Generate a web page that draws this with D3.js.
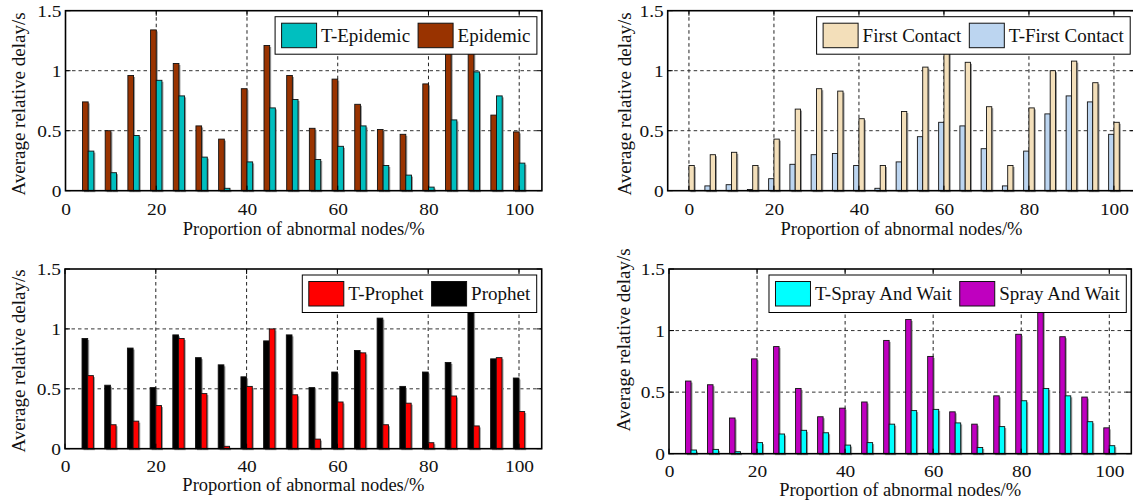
<!DOCTYPE html>
<html>
<head>
<meta charset="utf-8">
<script src="https://cdn.jsdelivr.net/npm/d3@7"></script>
<style>
  body { margin: 0; background: #fff; }
  svg { display: block; }
</style>
</head>
<body>
<svg id="fig" width="1133" height="502"></svg>
<script>
// Proportion of abnormal nodes (%) for each bar group
const nodes5to100 = [5, 10, 15, 20, 25, 30, 35, 40, 45, 50, 55, 60, 65, 70, 75, 80, 85, 90, 95, 100];
const nodes0to100 = [0, 5, 10, 15, 20, 25, 30, 35, 40, 45, 50, 55, 60, 65, 70, 75, 80, 85, 90, 95, 100];
const xTickValues = [0, 20, 40, 60, 80, 100];
const yTickValues = [0, 0.5, 1, 1.5];
const yTickLabels = ["0", "0.5", "1", "1.5"];

// Average relative delay (s)
const epidemic  = [0.74, 0.50, 0.96, 1.34, 1.06, 0.54, 0.43, 0.85, 1.21, 0.96, 0.52, 0.93, 0.72, 0.51, 0.47, 0.89, 1.25, 1.30, 0.63, 0.49];
const tEpidemic = [0.33, 0.15, 0.46, 0.92, 0.79, 0.28, 0.02, 0.24, 0.69, 0.76, 0.26, 0.37, 0.54, 0.21, 0.13, 0.03, 0.59, 0.99, 0.79, 0.23];

const firstContact  = [0.21, 0.30, 0.32, 0.21, 0.43, 0.68, 0.85, 0.83, 0.60, 0.21, 0.66, 1.03, 1.20, 1.07, 0.70, 0.21, 0.69, 1.00, 1.08, 0.90, 0.57];
const tFirstContact = [0.00, 0.04, 0.05, 0.01, 0.10, 0.22, 0.30, 0.31, 0.21, 0.02, 0.24, 0.45, 0.57, 0.54, 0.35, 0.04, 0.33, 0.64, 0.79, 0.74, 0.47];

const prophet  = [0.92, 0.53, 0.84, 0.51, 0.95, 0.76, 0.70, 0.60, 0.90, 0.95, 0.51, 0.64, 0.82, 1.09, 0.52, 0.64, 0.72, 1.20, 0.75, 0.59];
const tProphet = [0.61, 0.20, 0.23, 0.36, 0.92, 0.46, 0.02, 0.52, 1.00, 0.45, 0.08, 0.39, 0.80, 0.20, 0.38, 0.05, 0.44, 0.19, 0.76, 0.31];

const sprayAndWait  = [0.59, 0.56, 0.29, 0.77, 0.87, 0.53, 0.30, 0.37, 0.42, 0.92, 1.09, 0.79, 0.34, 0.24, 0.47, 0.97, 1.22, 0.95, 0.46, 0.21];
const tSprayAndWait = [0.03, 0.035, 0.016, 0.09, 0.16, 0.19, 0.17, 0.07, 0.09, 0.24, 0.35, 0.36, 0.25, 0.05, 0.22, 0.43, 0.53, 0.47, 0.26, 0.065];

const SERIF = "'Liberation Serif', 'DejaVu Serif', 'Noto Serif', 'Times New Roman', Times, serif";
const svg = d3.select("#fig").style("font-family", SERIF);
const BAR_UNITS = 1.25;

function drawPanel(cfg) {
  const x = d3.scaleLinear().domain(cfg.xDomain).range([cfg.left, cfg.right]);
  const y = d3.scaleLinear().domain([0, 1.5]).range([cfg.bottom, cfg.top]);
  const g = svg.append("g");

  // dashed grid
  const gridX = xTickValues.filter(t => x(t) > cfg.left + 1 && x(t) < cfg.right - 1);
  g.selectAll("line.gx").data(gridX).join("line")
    .attr("x1", d => x(d)).attr("x2", d => x(d))
    .attr("y1", cfg.top).attr("y2", cfg.bottom)
    .attr("stroke", "#222").attr("stroke-width", 1).attr("stroke-dasharray", "3.5,3");
  g.selectAll("line.gy").data([0.5, 1]).join("line")
    .attr("x1", cfg.left).attr("x2", cfg.right)
    .attr("y1", d => y(d)).attr("y2", d => y(d))
    .attr("stroke", "#333").attr("stroke-width", 1).attr("stroke-dasharray", "3.5,3");

  // grouped bars: first series left of the tick, second to the right
  const bw = x(BAR_UNITS) - x(0);
  const groups = [
    { vals: cfg.leftSeries.values, color: cfg.leftSeries.color, off: -bw },
    { vals: cfg.rightSeries.values, color: cfg.rightSeries.color, off: 0 }
  ];
  groups.forEach(s => {
    g.append("g").selectAll("rect").data(cfg.categories).join("rect")
      .attr("x", (c, i) => x(c) + s.off + 1.5)
      .attr("y", (c, i) => y(s.vals[i]) + 1.5)
      .attr("width", bw)
      .attr("height", (c, i) => Math.max(0, y(0) - y(s.vals[i])))
      .attr("fill", "#9a9a9a");
  });
  groups.forEach(s => {
    g.append("g").selectAll("rect").data(cfg.categories).join("rect")
      .attr("x", (c, i) => x(c) + s.off)
      .attr("y", (c, i) => y(s.vals[i]))
      .attr("width", bw)
      .attr("height", (c, i) => y(0) - y(s.vals[i]))
      .attr("fill", s.color)
      .attr("stroke", "#111").attr("stroke-width", 0.9);
  });

  // frame
  g.append("rect")
    .attr("x", cfg.left).attr("y", cfg.top)
    .attr("width", cfg.right - cfg.left).attr("height", cfg.bottom - cfg.top)
    .attr("fill", "none").attr("stroke", "#000").attr("stroke-width", 1.6);

  // inward tick marks
  const tk = 5;
  xTickValues.filter(t => x(t) >= cfg.left && x(t) <= cfg.right).forEach(t => {
    g.append("line").attr("x1", x(t)).attr("x2", x(t)).attr("y1", cfg.top).attr("y2", cfg.top + tk).attr("stroke", "#000");
    g.append("line").attr("x1", x(t)).attr("x2", x(t)).attr("y1", cfg.bottom).attr("y2", cfg.bottom - tk).attr("stroke", "#000");
  });
  yTickValues.forEach(t => {
    g.append("line").attr("x1", cfg.left).attr("x2", cfg.left + tk).attr("y1", y(t)).attr("y2", y(t)).attr("stroke", "#000");
    g.append("line").attr("x1", cfg.right).attr("x2", cfg.right - tk).attr("y1", y(t)).attr("y2", y(t)).attr("stroke", "#000");
  });

  // tick labels (slightly widened numerals)
  const xa = g.append("g").attr("transform", `translate(0,${cfg.bottom})`)
    .call(d3.axisBottom(x).tickValues(xTickValues).tickFormat(d3.format("d")).tickSize(0).tickPadding(cfg.xPad));
  const ya = g.append("g").attr("transform", `translate(${cfg.left},0)`)
    .call(d3.axisLeft(y).tickValues(yTickValues).tickFormat((d, i) => yTickLabels[i]).tickSize(0).tickPadding(4));
  [xa, ya].forEach(a => {
    a.select(".domain").remove();
    a.attr("font-family", SERIF).attr("font-size", 17);
    a.selectAll("text")
      .style("font-family", SERIF).style("font-size", "17px").attr("fill", "#111")
      .each(function () {
        const w = this.getComputedTextLength();
        d3.select(this).attr("textLength", w * 1.14).attr("lengthAdjust", "spacingAndGlyphs");
      });
  });

  // axis titles
  g.append("text")
    .attr("x", (cfg.left + cfg.right) / 2).attr("y", cfg.xLabelY)
    .attr("text-anchor", "middle").style("font-size", "18.5px").attr("fill", "#111")
    .text("Proportion of abnormal nodes/%");
  g.append("text")
    .attr("transform", `translate(${cfg.yLabelX},${cfg.yLabelY}) rotate(-90)`)
    .attr("text-anchor", "middle").style("font-size", "19px").attr("fill", "#111")
    .text("Average relative delay/s");

  // legend
  const lg = svg.append("g");
  const boxTop = cfg.top + 6, boxH = 37.5;
  const box = lg.append("rect").attr("y", boxTop).attr("height", boxH)
    .attr("fill", "#fff").attr("stroke", "#000").attr("stroke-width", 1);
  const items = [];
  cfg.legend.forEach(it => {
    const sw = lg.append("rect").attr("y", boxTop + (boxH - 24.5) / 2).attr("width", 35).attr("height", 24.5)
      .attr("fill", it.color).attr("stroke", "#111").attr("stroke-width", 1);
    const tx = lg.append("text").attr("y", boxTop + boxH / 2 + 6.5)
      .style("font-size", "19px").attr("fill", "#111").text(it.label);
    items.push({ sw, tx, w: tx.node().getComputedTextLength() });
  });
  let total = 6.5;
  items.forEach((it, k) => { total += 35 + 4.5 + it.w + (k < items.length - 1 ? 8 : 6.5); });
  const boxLeft = cfg.right - 5 - total;
  box.attr("x", boxLeft).attr("width", total);
  let cx = boxLeft + 6.5;
  items.forEach(it => {
    it.sw.attr("x", cx);
    it.tx.attr("x", cx + 35 + 4.5);
    cx += 35 + 4.5 + it.w + 8;
  });
}

drawPanel({
  xDomain: [0, 105], left: 65.5, right: 541.9, top: 10.7, bottom: 190.7,
  categories: nodes5to100,
  leftSeries: { values: epidemic, color: "#993300" },
  rightSeries: { values: tEpidemic, color: "#00bfbf" },
  legend: [{ label: "T-Epidemic", color: "#00bfbf" }, { label: "Epidemic", color: "#993300" }],
  xPad: 12, xLabelY: 234.5, yLabelX: 25, yLabelY: 104
});

drawPanel({
  xDomain: [-5, 105], left: 667.7, right: 1135.2, top: 10.7, bottom: 190.7,
  categories: nodes0to100,
  leftSeries: { values: tFirstContact, color: "#bcd5f0" },
  rightSeries: { values: firstContact, color: "#f3dfba" },
  legend: [{ label: "First Contact", color: "#f3dfba" }, { label: "T-First Contact", color: "#bcd5f0" }],
  xPad: 12, xLabelY: 234.5, yLabelX: 631, yLabelY: 104
});

drawPanel({
  xDomain: [0, 105], left: 65, right: 541.7, top: 269, bottom: 448.7,
  categories: nodes5to100,
  leftSeries: { values: prophet, color: "#000000" },
  rightSeries: { values: tProphet, color: "#ff0000" },
  legend: [{ label: "T-Prophet", color: "#ff0000" }, { label: "Prophet", color: "#000000" }],
  xPad: 11.5, xLabelY: 490.5, yLabelX: 25, yLabelY: 361
});

drawPanel({
  xDomain: [0, 105], left: 669, right: 1131.3, top: 269, bottom: 453.7,
  categories: nodes5to100,
  leftSeries: { values: sprayAndWait, color: "#bf00bf" },
  rightSeries: { values: tSprayAndWait, color: "#00ffff" },
  legend: [{ label: "T-Spray And Wait", color: "#00ffff" }, { label: "Spray And Wait", color: "#bf00bf" }],
  xPad: 11.5, xLabelY: 496, yLabelX: 630, yLabelY: 340
});
</script>
</body>
</html>
